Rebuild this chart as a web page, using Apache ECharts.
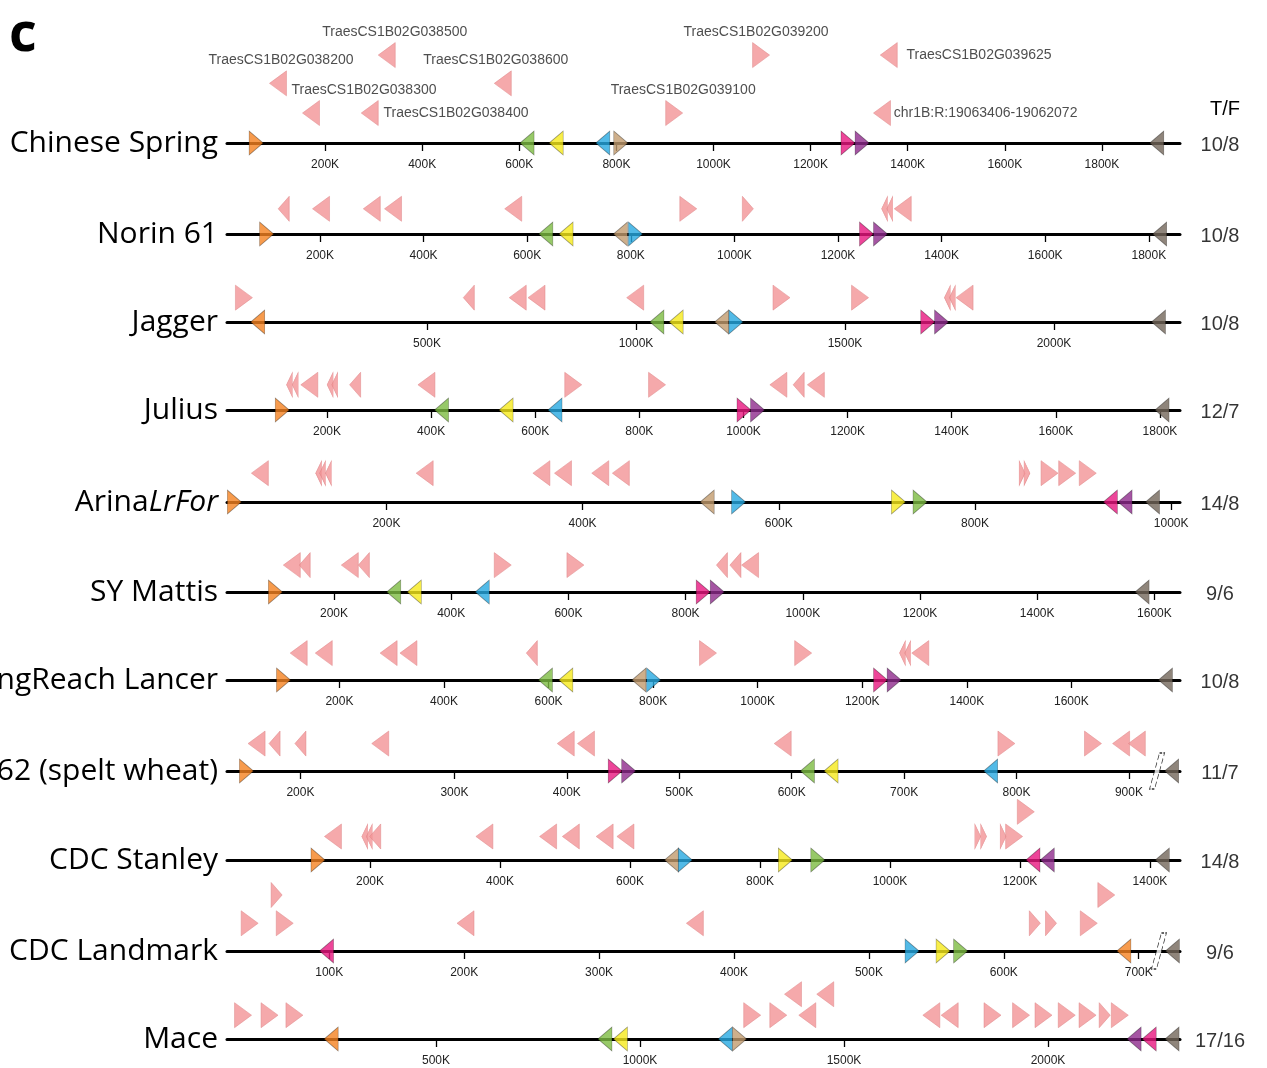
<!DOCTYPE html>
<html><head><meta charset="utf-8">
<script src="https://cdn.jsdelivr.net/npm/echarts@6/dist/echarts.min.js"></script>
<style>html,body{margin:0;padding:0;background:#fff}#c{width:1267px;height:1068px}</style>
</head><body><div id="c"></div>
<script>
// ================= DATA =================
const genomes = ['Chinese Spring','Norin 61','Jagger','Julius','ArinaLrFor','SY Mattis','LongReach Lancer','PI190962 (spelt wheat)','CDC Stanley','CDC Landmark','Mace'];
const tfRatios = ['10/8','10/8','10/8','12/7','14/8','9/6','10/8','11/7','14/8','9/6','17/16'];
// axis domain (K bp) of each genome track
const axisMin = [-2, 20.5, 21.5, 7.9, 37.5, 17.4, -15.1, 97.7, -20, 24.2, -12.3];
const axisMax = [1960.8, 1860.2, 2301.4, 1838.5, 1009, 1643.7, 1807.8, 945.4, 1446.2, 730.6, 2323.5];

// tick values (K)
const csTicks = [200,400,600,800,1000,1200,1400,1600,1800];
const norinTicks = [200,400,600,800,1000,1200,1400,1600,1800];
const jaggerTicks = [500,1000,1500,2000];
const juliusTicks = [200,400,600,800,1000,1200,1400,1600,1800];
const arinaTicks = [200,400,600,800,1000];
const mattisTicks = [200,400,600,800,1000,1200,1400,1600];
const lancerTicks = [200,400,600,800,1000,1200,1400,1600];
const speltTicks = [163,300,400,500,600,700,800,900];
const speltTickLabels = ['200K','300K','400K','500K','600K','700K','800K','900K'];
const stanleyTicks = [200,400,600,800,1000,1200,1400];
const landmarkTicks = [100,200,300,400,500,600,700];
const maceTicks = [500,1000,1500,2000];

// marker genes on the chromosome line: [position K, direction, gene]
const csMarkers = [[58,'R','A'],[616,'L','B'],[676,'L','C'],[772,'L','D'],[809,'R','E'],[1277,'R','F'],[1306,'R','G'],[1913,'L','H']];
const norinMarkers = [[97,'R','A'],[636,'L','B'],[675,'L','C'],[780,'L','E'],[809,'R','D'],[1255,'R','F'],[1282,'R','G'],[1821,'L','H']];
const jaggerMarkers = [[95,'L','A'],[1050,'L','B'],[1096,'L','C'],[1205,'L','E'],[1239,'R','D'],[1698,'R','F'],[1731,'R','G'],[2250,'L','H']];
const juliusMarkers = [[114,'R','A'],[420,'L','B'],[544,'L','C'],[638,'L','D'],[1001,'R','F'],[1027,'R','G'],[1804,'L','H']];
const arinaMarkers = [[45,'R','A'],[527,'L','E'],[559,'R','D'],[722,'R','C'],[744,'R','B'],[938,'L','F'],[953,'L','G'],[981,'L','H']];
const mattisMarkers = [[100,'R','A'],[302,'L','B'],[337,'L','C'],[453,'L','D'],[830,'R','F'],[854,'R','G'],[1579,'L','H']];
const lancerMarkers = [[93,'R','A'],[594,'L','B'],[633,'L','C'],[773,'L','E'],[801,'R','D'],[1235,'R','F'],[1261,'R','G'],[1780,'L','H']];
const speltMarkers = [[115,'R','A'],[443,'R','F'],[455,'R','G'],[614,'L','B'],[635,'L','C'],[777,'L','D'],[938,'L','H']];
const stanleyMarkers = [[120,'R','A'],[664,'L','E'],[685,'R','D'],[839,'R','C'],[889,'R','B'],[1220,'L','F'],[1242,'L','G'],[1419,'L','H']];
const landmarkMarkers = [[98,'L','F'],[532,'R','D'],[555,'R','C'],[568,'R','B'],[689,'L','A'],[725,'L','H']];
const maceMarkers = [[243,'L','A'],[914,'L','B'],[952,'L','C'],[1209,'L','D'],[1244,'R','E'],[2211,'L','G'],[2248,'L','F'],[2304,'L','H']];

// other genes above the line: [position K, lane, direction (s = short, t = tiny gene)]
const csGenes = [[103,2.13,'L'],[171,1.07,'L'],[292,1.07,'L'],[327,3.14,'L'],[566,2.13,'L'],[919,1.07,'R'],[1098,3.14,'R'],[1361,3.14,'L'],[1347,1.07,'L']];
const csGeneNames = ['TraesCS1B02G038200','TraesCS1B02G038300','TraesCS1B02G038400','TraesCS1B02G038500','TraesCS1B02G038600','TraesCS1B02G039100','TraesCS1B02G039200','TraesCS1B02G039625','chr1B:R:19063406-19062072'];
const norinGenes = [[130,.9,'Ls'],[202,.9,'L'],[300,.9,'L'],[341,.9,'L'],[573,.9,'L'],[911,.9,'R'],[1026,.9,'Rs'],[1290,.9,'Lt'],[1300,.9,'Lt'],[1325,.9,'L']];
const jaggerGenes = [[62,.87,'R'],[600,.87,'Ls'],[717,.87,'L'],[762,.87,'L'],[998,.87,'L'],[1348,.87,'R'],[1536,.87,'R'],[1745,.87,'Lt'],[1757,.87,'Lt'],[1786,.87,'L']];
const juliusGenes = [[128,.9,'Lt'],[139,.9,'Lt'],[166,.9,'L'],[206,.9,'Lt'],[215,.9,'Lt'],[254,.9,'Ls'],[391,.9,'L'],[673,.9,'R'],[834,.9,'R'],[1067,.9,'L'],[1106,.9,'Ls'],[1139,.9,'L']];
const arinaGenes = [[71,1.03,'L'],[131,1.03,'Lt'],[135,1.03,'Lt'],[141,1.03,'Lt'],[239,1.03,'L'],[358,1.03,'L'],[380,1.03,'L'],[418,1.03,'L'],[439,1.03,'L'],[848,1.03,'Rt'],[853,1.03,'Rt'],[876,1.03,'R'],[894,1.03,'R'],[915,1.03,'R']];
const mattisGenes = [[128,.96,'L'],[150,.96,'Ls'],[227,.96,'L'],[251,.96,'Ls'],[488,.96,'R'],[612,.96,'R'],[862,.96,'Ls'],[885,.96,'Ls'],[910,.96,'L']];
const lancerGenes = [[122,.96,'L'],[170,.96,'L'],[294,.96,'L'],[332,.96,'L'],[568,.96,'Ls'],[905,.96,'R'],[1087,.96,'R'],[1277,.96,'Lt'],[1287,.96,'Lt'],[1311,.96,'L']];
const speltGenes = [[124,.98,'L'],[140,.98,'Ls'],[163,.98,'Ls'],[234,.98,'L'],[399,.98,'L'],[417,.98,'L'],[592,.98,'L'],[791,.98,'R'],[868,.98,'R'],[893,.98,'L'],[907,.98,'L']];
const stanleyGenes = [[143,.84,'L'],[192,.84,'Lt'],[199,.84,'Lt'],[208,.84,'Ls'],[376,.84,'L'],[474,.84,'L'],[509,.84,'L'],[561,.84,'L'],[593,.84,'L'],[1135,.84,'Rt'],[1144,.84,'Rt'],[1174,.84,'Rt'],[1191,.84,'R'],[1209,1.72,'R']];
const landmarkGenes = [[41,.99,'R'],[61,2,'Rs'],[67,.99,'R'],[201,.99,'L'],[371,.99,'L'],[623,.99,'Rs'],[635,.99,'Rs'],[663,.99,'R'],[676,2,'R']];
const maceGenes = [[27,.85,'R'],[92,.85,'R'],[153,.85,'R'],[1275,.85,'R'],[1339,.85,'R'],[1375,1.6,'L'],[1410,.85,'L'],[1454,1.6,'L'],[1714,.85,'L'],[1759,.85,'L'],[1864,.85,'R'],[1934,.85,'R'],[1989,.85,'R'],[2046,.85,'R'],[2097,.85,'R'],[2139,.85,'Rs'],[2176,.85,'R']];

// axis breaks (K)
const speltBreak = [925];
const landmarkBreak = [715];

// ================= STYLE / LAYOUT =================
const lineY = [143, 234, 322, 410, 502, 592, 680, 771, 860, 951, 1039];
const LANE = 28;
const geneColors = {A:'#F58220', B:'#7DBB42', C:'#F6EA1C', D:'#27A9E1', E:'#C29B6E', F:'#E8177F', G:'#8E2A8C', H:'#73665A'};
const PINK = '#F29496';
const pinkLen = {'':17, s:11, t:6};
const csLabelPlace = {
  'TraesCS1B02G038200': {position:'top', offset:[3,0]},
  'TraesCS1B02G038300': {position:'top', offset:[53,0]},
  'TraesCS1B02G038400': {position:'right', distance:5},
  'TraesCS1B02G038500': {position:'top', offset:[8,0]},
  'TraesCS1B02G038600': {position:'top', offset:[-7,0]},
  'TraesCS1B02G039100': {position:'top', offset:[9,0]},
  'TraesCS1B02G039200': {position:'top', offset:[-5,0]},
  'TraesCS1B02G039625': {position:'right', distance:9},
  'chr1B:R:19063406-19062072': {position:'right', distance:3}
};

const rows = [
  {ticks: csTicks, markers: csMarkers, genes: csGenes, names: csGeneNames},
  {ticks: norinTicks, markers: norinMarkers, genes: norinGenes},
  {ticks: jaggerTicks, markers: jaggerMarkers, genes: jaggerGenes},
  {ticks: juliusTicks, markers: juliusMarkers, genes: juliusGenes},
  {ticks: arinaTicks, markers: arinaMarkers, genes: arinaGenes},
  {ticks: mattisTicks, markers: mattisMarkers, genes: mattisGenes},
  {ticks: lancerTicks, markers: lancerMarkers, genes: lancerGenes},
  {ticks: speltTicks, tickLabels: speltTickLabels, markers: speltMarkers, genes: speltGenes, breaks: speltBreak},
  {ticks: stanleyTicks, markers: stanleyMarkers, genes: stanleyGenes},
  {ticks: landmarkTicks, markers: landmarkMarkers, genes: landmarkGenes, breaks: landmarkBreak},
  {ticks: maceTicks, markers: maceMarkers, genes: maceGenes}
];

const grids = [], xAxes = [], yAxes = [], series = [];
const sans = 'Liberation Sans, Arial, sans-serif';

rows.forEach((row, i) => {
  grids.push({left: 227, width: 953, top: lineY[i] - 4 * LANE, height: 4 * LANE, containLabel: false, outerBoundsMode: 'none'});
  const isArina = genomes[i] === 'ArinaLrFor';
  xAxes.push({
    gridIndex: i, type: 'value', min: axisMin[i], max: axisMax[i], position: 'bottom',
    name: isArina ? '{n|Arina}{it|LrFor}' : genomes[i],
    nameLocation: 'start', nameGap: 9,
    nameTextStyle: {fontFamily: 'Open Sans', fontSize: 30, color: '#000',
      rich: isArina ? {n: {fontFamily: 'Open Sans', fontSize: 30, color: '#000'}, it: {fontFamily: 'Open Sans', fontSize: 30, fontStyle: 'italic', color: '#000'}} : undefined},
    axisLine: {show: true, onZero: false, lineStyle: {color: '#000', width: 3}},
    axisTick: {show: true, inside: false, length: 8, customValues: row.ticks, lineStyle: {color: '#000', width: 1.3}},
    axisLabel: {show: true, customValues: row.ticks, margin: 16, fontSize: 12, fontFamily: sans, color: '#222',
      formatter: (v) => { const k = row.ticks.indexOf(v); return row.tickLabels && k >= 0 ? row.tickLabels[k] : Math.round(v) + 'K'; }},
    splitLine: {show: false}
  });
  yAxes.push({gridIndex: i, type: 'value', min: 0, max: 4, show: false});

  // other genes (pink)
  series.push({
    type: 'scatter', xAxisIndex: i, yAxisIndex: i, clip: false, silent: true, z: 3,
    data: row.genes.map((g, j) => {
      const dir = g[2];
      const item = {
        value: [g[0], g[1]], symbol: 'triangle',
        symbolSize: [25, pinkLen[dir.slice(1)]],
        symbolRotate: dir[0] === 'R' ? -90 : 90,
        itemStyle: {color: PINK, borderColor: '#DE8587', borderWidth: 0.6}
      };
      if (row.names) {
        const nm = row.names[j];
        item.name = nm;
        item.label = Object.assign({show: true, formatter: nm, fontSize: 14, fontFamily: sans, color: '#222', distance: 3}, csLabelPlace[nm]);
      }
      return item;
    })
  });
  // marker genes on line
  series.push({
    type: 'scatter', xAxisIndex: i, yAxisIndex: i, clip: false, silent: true, z: 4,
    data: row.markers.map(m => ({
      value: [m[0], 0], symbol: 'triangle', symbolSize: [24, 14],
      symbolRotate: m[1] === 'R' ? -90 : 90,
      itemStyle: {color: geneColors[m[2]], borderColor: 'rgba(0,0,0,0.45)', borderWidth: 0.8}
    }))
  });
  // axis break marks
  if (row.breaks) {
    series.push({
      type: 'scatter', xAxisIndex: i, yAxisIndex: i, clip: false, silent: true, z: 5,
      symbol: 'path://M10,0 L15,0 L5,36 L0,36 Z', symbolSize: [15, 36],
      itemStyle: {color: '#fff', borderColor: '#000', borderWidth: 1, borderType: 'dashed'},
      data: row.breaks.map(b => [b, 0])
    });
  }
  // T/F ratio
  series.push({
    type: 'scatter', xAxisIndex: i, yAxisIndex: i, clip: false, silent: true, z: 2,
    symbolSize: 1, itemStyle: {color: 'rgba(0,0,0,0)'},
    label: {show: true, position: 'inside', offset: [40, 2], formatter: tfRatios[i], fontSize: 20, fontFamily: sans, color: '#000'},
    data: [[axisMax[i], 0]]
  });
});

const chart = echarts.init(document.getElementById('c'), null, {renderer: 'canvas'});
chart.setOption({
  animation: false,
  backgroundColor: '#fff',
  title: [
    {text: 'c', left: 4, top: 4, textStyle: {fontFamily: 'Open Sans', fontWeight: 'bold', fontSize: 54, color: '#000'}},
    {text: 'T/F', left: 1205, top: 94, textStyle: {fontFamily: sans, fontWeight: 'normal', fontSize: 20, color: '#000'}}
  ],
  grid: grids, xAxis: xAxes, yAxis: yAxes, series: series
});
</script></body></html>
